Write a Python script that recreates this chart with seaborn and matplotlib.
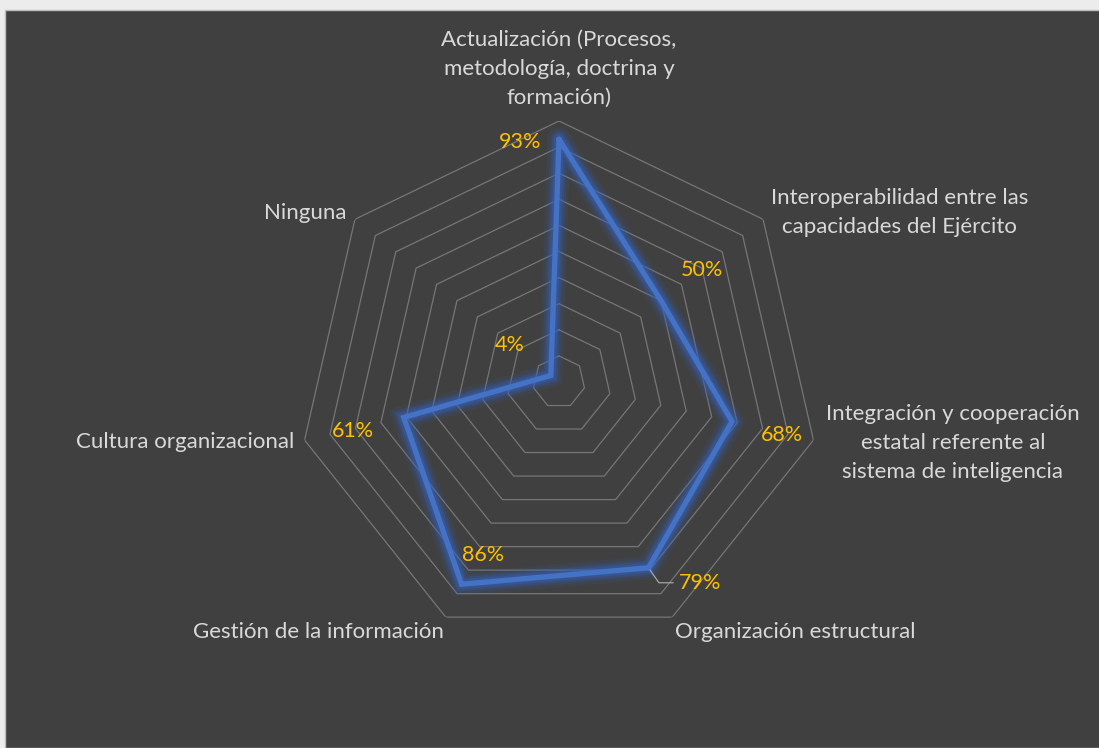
import numpy as np
import pandas as pd
import seaborn as sns
import matplotlib.pyplot as plt
from matplotlib.patches import Rectangle

# Datos del gráfico radial
categorias = [
    "Actualización (Procesos,\nmetodología, doctrina y\nformación)",
    "Interoperabilidad entre las\ncapacidades del Ejército",
    "Integración y cooperación\nestatal referente al\nsistema de inteligencia",
    "Organización estructural",
    "Gestión de la información",
    "Cultura organizacional",
    "Ninguna",
]
valores = [0.93, 0.50, 0.68, 0.79, 0.86, 0.61, 0.04]
etiquetas = ["93%", "50%", "68%", "79%", "86%", "61%", "4%"]

# posición de los textos (solo estilo)
lab_align = [("center", "bottom"), ("left", "center"), ("left", "center"),
             ("left", "top"), ("right", "top"), ("right", "center"), ("right", "center")]
lab_r = [1.05, 1.04, 1.05, 1.02, 1.02, 1.04, 1.04]
val_off = [(-39, -3), (41, 31), (50, -14), (52, -15), (21, 29), (-51, -14), (-41, 30)]

sns.set_theme(style="dark")
plt.rcParams['font.family'] = ['Lato', 'DejaVu Sans']

BG = "#404040"
TXT = "#d9d9d9"
GRID = "#767676"
AZUL = "#4472C4"
AMARILLO = "#FFC000"

fig = plt.figure(figsize=(10.99, 7.48), dpi=100)
fig.patch.set_facecolor("#ececec")
fig.add_artist(Rectangle((5 / 1099, 0), 1, (748 - 10) / 748, transform=fig.transFigure,
                         facecolor=BG, edgecolor="#bdbdbd", linewidth=1, zorder=-10))

cx, cy, rad = 559 / 1099, 1 - 382 / 748, 261
ax = fig.add_axes([cx - rad / 1099, cy - rad / 748, 2 * rad / 1099, 2 * rad / 748], projection="polar")
ax.set_facecolor("none")
ax.set_theta_zero_location("N")
ax.set_theta_direction(-1)
ax.grid(False)
ax.spines["polar"].set_visible(False)

n = len(categorias)
ang = np.arange(n) * 2 * np.pi / n
ang_c = np.append(ang, 2 * np.pi)

# anillos heptagonales
for r in np.arange(1, 11) / 10:
    ax.plot(ang_c, [r] * (n + 1), color=GRID, linewidth=0.9, zorder=1)

df = pd.DataFrame({"ang": ang_c, "valor": valores + valores[:1]})

# brillo
for w, a in [(17, 0.10), (13, 0.16), (10, 0.26), (7, 0.4)]:
    sns.lineplot(data=df, x="ang", y="valor", sort=False, ax=ax, color="#3560b8",
                 linewidth=w, alpha=a, zorder=2, solid_joinstyle="miter")
sns.lineplot(data=df, x="ang", y="valor", sort=False, ax=ax, color=AZUL,
             linewidth=3.8, zorder=3, solid_joinstyle="miter")
ax.set_xlabel("")
ax.set_ylabel("")
ax.set_ylim(0, 1)
ax.set_xticks([])
ax.set_yticks([])
ax.grid(False)

for a, txt, r, (ha, va) in zip(ang, categorias, lab_r, lab_align):
    ax.text(a, r, txt, ha=ha, va=va, color=TXT, fontsize=16,
            multialignment="center", linespacing=1.58)

for i, (a, v, t, off) in enumerate(zip(ang, valores, etiquetas, val_off)):
    props = None
    if i == 3:
        props = dict(arrowstyle="-", color="#a6a6a6", lw=0.9, shrinkA=2, shrinkB=2,
                     connectionstyle="angle,angleA=0,angleB=-55,rad=0")
    ax.annotate(t, xy=(a, v), xytext=off, textcoords="offset pixels",
                ha="center", va="center", color=AMARILLO, fontsize=15.5,
                arrowprops=props, zorder=4)

fig.savefig("out.png", dpi=100, facecolor=fig.get_facecolor())
